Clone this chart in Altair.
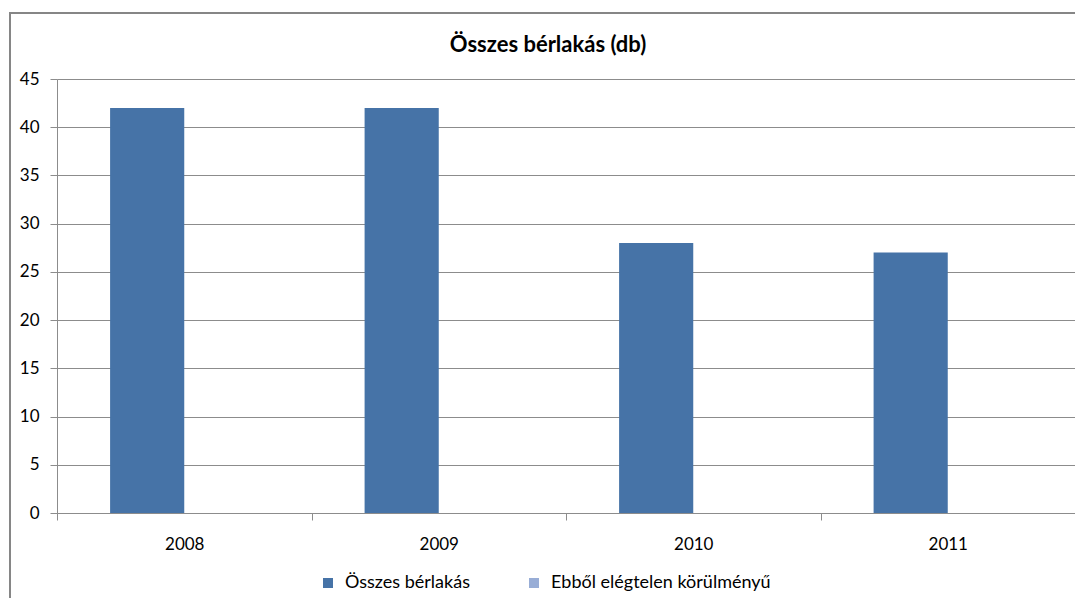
import altair as alt
import pandas as pd

years = ["2008", "2009", "2010", "2011"]
series_names = ["Összes bérlakás", "Ebből elégtelen körülményű"]
total_values = [42, 42, 28, 27]
poor_values = [0, 0, 0, 0]
chart_title = "Összes bérlakás (db)"

rows = []
for y, v in zip(years, total_values):
    rows.append({"year": y, "series": series_names[0], "value": v})
for y, v in zip(years, poor_values):
    rows.append({"year": y, "series": series_names[1], "value": v})
df = pd.DataFrame(rows)

FONT = "Lato"
GRID = "#8c8c8c"

bars = alt.Chart(df).mark_bar().encode(
    x=alt.X("year:N", sort=years, title=None,
            scale=alt.Scale(paddingInner=0, paddingOuter=0),
            axis=alt.Axis(labelAngle=0, tickBand="extent", tickSize=7,
                          tickColor=GRID, domainColor=GRID, labelPadding=16,
                          labelFontSize=17, labelColor="#000000", labelFont=FONT,
                          grid=False)),
    xOffset=alt.XOffset("series:N", sort=series_names,
                        scale=alt.Scale(paddingInner=0, paddingOuter=0.716)),
    y=alt.Y("value:Q", title=None,
            scale=alt.Scale(domain=[0, 45], nice=False),
            axis=alt.Axis(values=list(range(0, 46, 5)), tickSize=7, tickColor=GRID,
                          domainColor=GRID, gridColor=GRID, labelPadding=11,
                          labelFontSize=17, labelColor="#000000", labelFont=FONT)),
    color=alt.Color("series:N", sort=series_names,
                    scale=alt.Scale(domain=series_names, range=["#4673A7", "#98ADD6"]),
                    legend=alt.Legend(title=None, orient="none", direction="horizontal",
                                      legendX=262, legendY=495, symbolType="square",
                                      symbolSize=100, symbolStrokeWidth=0,
                                      labelFontSize=18, labelFont=FONT, labelLimit=0,
                                      labelColor="#000000", columnPadding=55,
                                      padding=0, labelOffset=8)),
)

frame = alt.Chart(pd.DataFrame({"k": [0]})).mark_rect(
    fill=None, stroke="#868686", strokeWidth=2
).encode(
    x=alt.value(-47), x2=alt.value(1100), y=alt.value(-66), y2=alt.value(600)
)

title = alt.Chart(pd.DataFrame({"t": [chart_title]})).mark_text(
    font=FONT, fontSize=22, fontWeight="bold", color="#000000",
    align="center", baseline="alphabetic"
).encode(text="t:N", x=alt.value(491), y=alt.value(-27))

chart = alt.layer(frame, bars, title).properties(
    width=1018, height=434,
    autosize=alt.AutoSizeParams(type="none"),
    padding={"left": 49, "top": 71, "right": 0, "bottom": 85},
).configure_view(stroke=None).configure(background="white")

chart.save("out.html", embed_options={"renderer": "svg", "actions": False})
